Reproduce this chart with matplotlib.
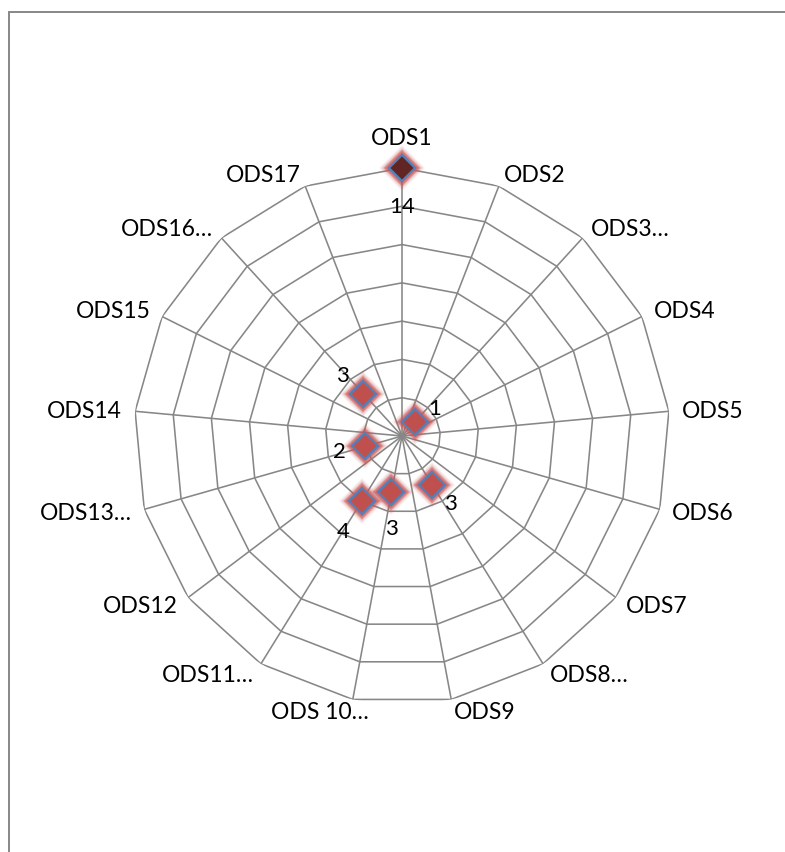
import numpy as np
import matplotlib
matplotlib.use("Agg")
import matplotlib.pyplot as plt
from matplotlib.patches import Rectangle

plt.rcParams["font.family"] = ["Lato", "DejaVu Sans"]

# Chart data (blank axes have no value)
categories = ["ODS1", "ODS2", "ODS3…", "ODS4", "ODS5", "ODS6", "ODS7", "ODS8…", "ODS9",
              "ODS 10…", "ODS11…", "ODS12", "ODS13…", "ODS14", "ODS15", "ODS16…", "ODS17"]
values = [14, np.nan, 1, np.nan, np.nan, np.nan, np.nan, 3, np.nan,
          3, 4, np.nan, 2, np.nan, np.nan, 3, np.nan]
ring_ticks = [2, 4, 6, 8, 10, 12, 14]

# where Excel put each data label, in pixels from its point
label_offsets = {0: (0, -38), 2: (20, 14), 7: (18, -18), 9: (0, -36),
                 10: (-18, -30), 12: (-26, -5), 15: (-21, 19)}
# small nudges for category labels that Excel placed off the usual spot
cat_nudge = {9: (18, 0)}

grid_color = "#878787"
W, H = 785, 853
fig = plt.figure(figsize=(W / 100, H / 100), dpi=100)

# chart frame (runs off the right and bottom edges)
fig.patches.append(Rectangle((8.5 / W, -0.1), 1.2, 1.1 - 13 / H, transform=fig.transFigure,
                             fill=False, edgecolor=grid_color, linewidth=1.4))

cx, cy, R = 402, 437, 268
ax = fig.add_axes([(cx - R) / W, (H - cy - R) / H, 2 * R / W, 2 * R / H], projection="polar")
ax.set_theta_zero_location("N")
ax.set_theta_direction(-1)
r_max = ring_ticks[-1]
ax.set_ylim(0, r_max)
ax.grid(False)
ax.set_xticks([])
ax.set_yticks([])
ax.spines["polar"].set_visible(False)
ax.patch.set_visible(False)

n = len(categories)
thetas = np.arange(n) * 2 * np.pi / n

# polygon web
for th in thetas:
    ax.plot([th, th], [0, r_max], color=grid_color, lw=1.15, zorder=1)
for r in ring_ticks:
    ax.plot(np.r_[thetas, thetas[0]], [r] * (n + 1), color=grid_color, lw=1.15, zorder=1)

# category labels
for i, (th, cat) in enumerate(zip(thetas, categories)):
    s, c = np.sin(th), np.cos(th)
    if abs(s) < 0.05:
        ha, off = "center", (0, 31)
    else:
        ha = "left" if s > 0 else "right"
        off = (13 * s, 12.5 * c)
    nx, ny = cat_nudge.get(i, (0, 0))
    ax.annotate(cat, xy=(th, r_max), xytext=(off[0] + nx, off[1] + ny),
                textcoords="offset pixels", ha=ha, va="center", fontsize=16.5,
                color="black", annotation_clip=False)

# markers with a soft red glow
vals = np.array(values, dtype=float)
for ms, a in [(23, 0.1), (21, 0.18), (19.5, 0.3), (18, 0.45), (16.5, 0.6)]:
    ax.plot(thetas, vals, ls="none", marker="D", ms=ms, color="#C8595A", alpha=a,
            markeredgewidth=0, clip_on=False, zorder=3)
fills = ["#632523" if i == 0 else "#C0504D" for i in range(n)]
for i in range(n):
    if np.isnan(vals[i]):
        continue
    ax.plot(thetas[i], vals[i], ls="none", marker="D", ms=13.5, markerfacecolor=fills[i],
            markeredgecolor="#4F81BD", markeredgewidth=1.5, clip_on=False, zorder=4)
    dx, dy = label_offsets[i]
    ax.annotate(f"{vals[i]:g}", xy=(thetas[i], vals[i]), xytext=(dx, dy),
                textcoords="offset pixels", ha="center", va="center", fontsize=16,
                color="black", zorder=5, annotation_clip=False)

fig.savefig("out.png", dpi=100)
